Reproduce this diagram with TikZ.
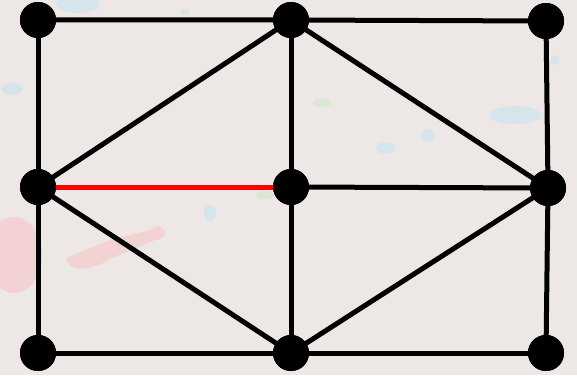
\documentclass[tikz,border=0pt]{standalone}
\usepackage{tikz}

\definecolor{paper}{RGB}{237,231,230}
\definecolor{splashblue}{RGB}{214,228,236}
\definecolor{splashred}{RGB}{242,210,210}
\definecolor{splashgreen}{RGB}{220,230,212}

\begin{document}
\begin{tikzpicture}[x=0.02cm, y=-0.02cm,
  vertex/.style={circle, fill=black, inner sep=0pt, minimum size=0.72cm},
  edge/.style={line width=0.1cm, black},
  hot/.style={line width=0.1cm, red}]
% Background and faint splashes
\fill[paper] (0,0) rectangle (577,375);
\useasboundingbox (0,0) rectangle (577,375);
\fill[splashblue] (78,4) ellipse (22 and 9);
\fill[splashblue] (12,89) ellipse (10 and 6);
\fill[splashred] (14,255) ellipse (28 and 38);
\fill[splashred] (66,258) -- (110,240) -- (150,230) .. controls (165,218) and (172,240) .. (155,240) -- (112,258) .. controls (90,272) and (68,272) .. (66,258);
\fill[splashblue] (210,213) ellipse (6 and 8);
\fill[splashgreen] (265,195) ellipse (9 and 4);
\fill[splashgreen] (185,12) ellipse (5 and 3);
\fill[splashgreen] (322,103) ellipse (9 and 4);
\fill[splashblue] (386,148) ellipse (10 and 6);
\fill[splashblue] (428,135) ellipse (7 and 6);
\fill[splashblue] (515,115) ellipse (26 and 9);
\fill[splashblue] (555,60) ellipse (5 and 5);

% Vertices
\node[vertex] (tl) at (38,20) {};
\node[vertex] (tm) at (291,20) {};
\node[vertex] (tr) at (546,21) {};
\node[vertex] (ml) at (38,187) {};
\node[vertex] (mm) at (291,187) {};
\node[vertex] (mr) at (548,188) {};
\node[vertex] (bl) at (38,353) {};
\node[vertex] (bm) at (291,353) {};
\node[vertex] (br) at (546,353) {};

% Edges
\draw[edge] (tl.center) -- (tm.center) -- (tr.center);
\draw[edge] (bl.center) -- (bm.center) -- (br.center);
\draw[edge] (tl.center) -- (ml.center) -- (bl.center);
\draw[edge] (tm.center) -- (mm.center) -- (bm.center);
\draw[edge] (tr.center) -- (mr.center) -- (br.center);
\draw[edge] (ml.center) -- (tm.center) -- (mr.center);
\draw[edge] (ml.center) -- (bm.center) -- (mr.center);
\draw[edge] (mm.center) -- (mr.center);
\draw[hot] (ml.center) -- (mm.center);

% Redraw vertices on top
\foreach \v in {tl,tm,tr,ml,mm,mr,bl,bm,br}
  \fill[black] (\v.center) circle (0.36cm);
\end{tikzpicture}
\end{document}
